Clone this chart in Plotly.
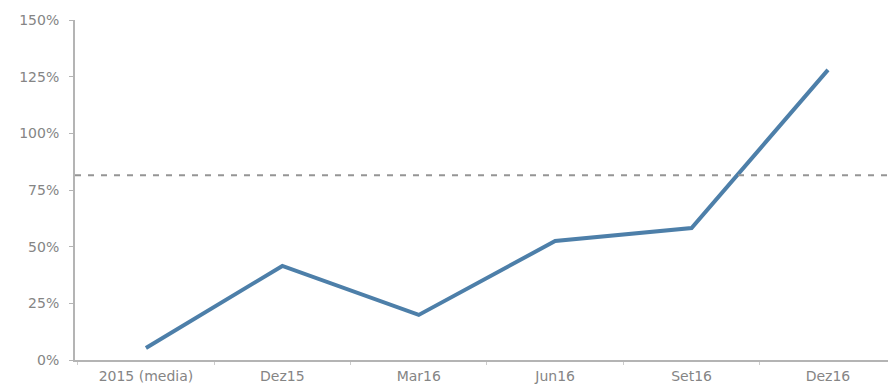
import plotly.graph_objects as go

# Periods and index values (%)
periods = ["2015 (media)", "Dez15", "Mar16", "Jun16", "Set16", "Dez16"]
values = [5.3, 41.5, 19.9, 52.5, 58.2, 128.0]

# Reference level drawn as a dashed horizontal line
reference_level = 81.5

# Y axis ticks
y_ticks = [0, 25, 50, 75, 100, 125, 150]
y_tick_labels = ["0%", "25%", "50%", "75%", "100%", "125%", "150%"]

axis_color = "#b4b4b4"
text_color = "#858585"
font_family = "DejaVu Sans"

fig = go.Figure()

fig.add_trace(go.Scatter(
    x=periods,
    y=values,
    mode="lines",
    line=dict(color="#4d7fa9", width=4),
    hoverinfo="skip",
    showlegend=False,
))

fig.add_shape(
    type="line",
    xref="paper", yref="y",
    x0=0, x1=1,
    y0=reference_level, y1=reference_level,
    line=dict(color="#959595", width=2, dash="6px,7px"),
    layer="above",
)

fig.update_layout(
    width=888,
    height=386,
    margin=dict(l=75, r=0, t=20, b=26),
    paper_bgcolor="white",
    plot_bgcolor="white",
    font=dict(family=font_family, size=14, color=text_color),
    xaxis=dict(
        type="category",
        range=[-0.52, 5.44],
        showgrid=False,
        zeroline=False,
        showline=True,
        linecolor=axis_color,
        linewidth=2,
        ticks="outside",
        tickson="boundaries",
        ticklen=3,
        tickcolor="#cccccc",
        ticklabelstandoff=2,
        tickfont=dict(family=font_family, size=14, color=text_color),
    ),
    yaxis=dict(
        range=[0, 150],
        tickvals=y_ticks,
        ticktext=y_tick_labels,
        showgrid=False,
        zeroline=False,
        showline=True,
        linecolor=axis_color,
        linewidth=2,
        ticks="outside",
        ticklen=4,
        tickcolor=axis_color,
        ticklabelstandoff=7,
        tickfont=dict(family=font_family, size=14, color=text_color),
    ),
)

fig.write_html("out.html")
